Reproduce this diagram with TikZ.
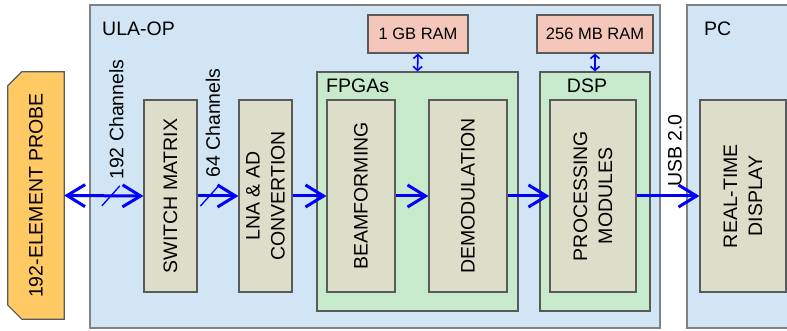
\documentclass[tikz,border=0pt]{standalone}
\usepackage{fontspec}
\setmainfont{Liberation Sans}
\usetikzlibrary{arrows.meta}

\definecolor{ulablue}{RGB}{209,229,244}
\definecolor{fpgagreen}{RGB}{199,234,204}
\definecolor{blockgray}{RGB}{221,222,201}
\definecolor{ramred}{RGB}{245,199,186}
\definecolor{probeorange}{RGB}{255,201,100}
\definecolor{edgegray}{RGB}{90,90,90}
\definecolor{framegray}{RGB}{130,130,130}

\tikzset{
    frame/.style={draw=framegray, line width=1.3pt, fill=ulablue, inner sep=0pt},
    group/.style={draw=edgegray, line width=1.2pt, fill=fpgagreen, inner sep=0pt},
    block/.style={draw=edgegray, line width=1.2pt, fill=blockgray, inner sep=0pt, minimum height=192pt},
    ram/.style={draw=edgegray, line width=1.2pt, fill=ramred, inner sep=0pt, minimum height=38pt, font=\fontsize{16.5}{20}\selectfont},
    vtext/.style={rotate=90, align=center, inner sep=0pt},
    barb/.tip={Straight Barb[length=18pt,width=22pt,line width=3pt]},
    flow/.style={draw=blue, line width=3pt, -barb},
    bus/.style={draw=blue, line width=1.6pt, {Straight Barb[length=4pt,width=9pt]}-{Straight Barb[length=4pt,width=9pt]}},
    slash/.style={draw=blue, line width=1.3pt}
}

\begin{document}
\begin{tikzpicture}[x=1pt,y=1pt,yscale=-1,xscale=1,font=\fontsize{19.5}{25}\selectfont]
    \useasboundingbox (0,0) rectangle (787,331);

    % outer frames
    \node[frame, minimum width=570pt, minimum height=323pt] (ulaop) at (375,166.5) {};
    \node[frame, minimum width=120pt, minimum height=323pt] (pc) at (747,166.5) {};
    \node[anchor=west, inner sep=0pt] (ulaoplbl) at (102,28.5) {ULA-OP};
    \node[anchor=west, inner sep=0pt] (pclbl) at (704,28.5) {PC};

    % probe (snipped corners on the left)
    \node[inner sep=0pt, minimum width=56pt, minimum height=247pt] (probe) at (36,195.5) {};
    \draw[draw=edgegray, line width=1.2pt, fill=probeorange]
        ([shift={(0,14)}]probe.north west) -- ([shift={(14,0)}]probe.north west) -- (probe.north east)
        -- (probe.south east) -- ([shift={(14,0)}]probe.south west) -- ([shift={(0,-14)}]probe.south west) -- cycle;
    \node[vtext] (probelbl) at (probe) {192-ELEMENT PROBE};

    % FPGA and DSP groups
    \node[group, minimum width=201pt, minimum height=239pt] (fpga) at (417.5,191.5) {};
    \node[anchor=west, inner sep=0pt] (fpgalbl) at (326,86) {FPGAs};
    \node[group, minimum width=110pt, minimum height=239pt] (dsp) at (595,191.5) {};
    \node[inner sep=0pt] (dsplbl) at (587,86) {DSP};

    % memories
    \node[ram, minimum width=100pt] (ram1) at (418,34) {1 GB RAM};
    \node[ram, minimum width=116pt] (ram2) at (595,34) {256 MB RAM};

    % processing blocks
    \node[block, minimum width=53pt] (sw) at (170.5,196) {};
    \node[vtext] at (sw) {SWITCH MATRIX};
    \node[block, minimum width=53pt] (lna) at (265.5,196) {};
    \node[vtext] at (lna) {LNA \& AD\\CONVERTION};
    \node[block, minimum width=68pt] (beam) at (361,196) {};
    \node[vtext] at (beam) {BEAMFORMING};
    \node[block, minimum width=78pt] (demod) at (468,196) {};
    \node[vtext] at (demod) {DEMODULATION};
    \node[block, minimum width=86pt] (proc) at (593,196) {};
    \node[vtext] at (proc) {PROCESSING\\MODULES};
    \node[block, minimum width=86pt] (disp) at (743,196) {};
    \node[vtext] at (disp) {REAL-TIME\\DISPLAY};

    % connections
    \draw[flow, barb-barb] (probe.east) -- (sw.west) coordinate[pos=0.59] (cut1);
    \draw[flow] (sw.east) -- (lna.west) coordinate[pos=0.29] (cut2);
    \draw[flow] (lna.east) -- (beam.west);
    \draw[flow] (beam.east) -- (demod.west);
    \draw[flow] (demod.east) -- (proc.west);
    \draw[flow] (proc.east) -- (disp.west);
    \draw[bus] (ram1.south) -- (fpga.north);
    \draw[bus] (ram2.south) -- (dsp.north);

    % channel marks
    \draw[slash] ([shift={(-9,10)}]cut1) -- ([shift={(9,-10)}]cut1);
    \draw[slash] ([shift={(-9,10)}]cut2) -- ([shift={(9,-10)}]cut2);
    \node[vtext, anchor=west] (ch192) at (116.5,180) {192 Channels};
    \node[vtext, anchor=west] (ch64) at (213,178) {64 Channels};
    \node[vtext, anchor=west] (usb) at (675,187) {USB 2.0};

\end{tikzpicture}
\end{document}
